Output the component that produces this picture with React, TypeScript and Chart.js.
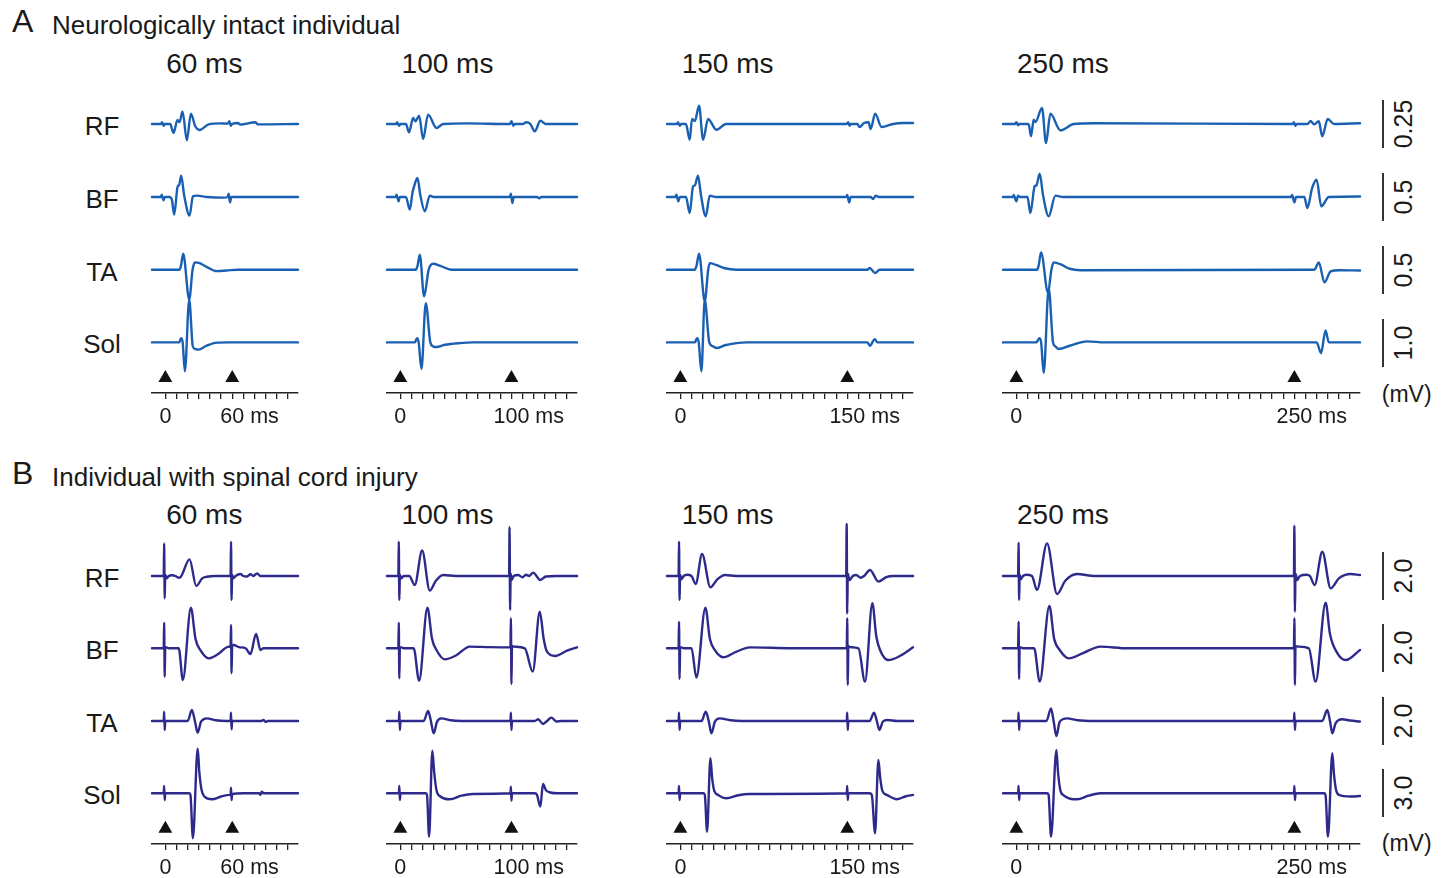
import React, { useEffect, useRef } from 'react';
import { Chart, registerables } from 'chart.js';
Chart.register(...registerables);

// ---------------- data ----------------
const ISIS = [60, 100, 150, 250];
const COLUMN_TITLES = ['60 ms', '100 ms', '150 ms', '250 ms'];
const AXIS_TICK_LABELS = [['0', '60 ms'], ['0', '100 ms'], ['0', '150 ms'], ['0', '250 ms']];
const MUSCLES = ['RF', 'BF', 'TA', 'Sol'];
const SCALE_A_MV = [0.25, 0.5, 0.5, 1.0];
const SCALE_A_LABELS = ['0.25', '0.5', '0.5', '1.0'];
const SCALE_B_MV = [2, 2, 2, 3];
const SCALE_B_LABELS = ['2.0', '2.0', '2.0', '3.0'];

// traces: [time ms, mV]
const A60_RF = [[-12,0],[-4.2,0],[-2.9,0.010],[-1.7,-0.009],[-0.5,0],[4.3,0],[7.3,-0.047],[10.9,0.021],[12.7,0.010],[15.4,0.066],[19.3,-0.085],[22.9,0.054],[26.8,-0.012],[30.7,-0.031],[38.8,-0.002],[49.3,0.003],[55.9,0.002],[57.4,0.014],[58.6,-0.009],[59.8,0],[65.2,0.005],[67.3,-0.003],[80.8,0.009],[82.9,-0.002],[119,0]];
const A60_BF = [[-12,0],[-4.1,0],[-3.2,0.024],[-1.7,-0.035],[-0.5,0],[3.7,0],[5.8,-0.028],[7.9,-0.184],[10.9,0.104],[12.4,0.128],[14.2,0.222],[16.9,0.014],[21.7,-0.194],[24.7,0.007],[28.3,0.014],[37.3,0],[52.3,-0.007],[55.9,0],[56.8,0.035],[58,-0.056],[59.2,0],[119,0]];
const A60_TA = [[-12,0],[12.5,0],[14.0,0.04],[16.0,0.167],[21.4,-0.31],[24.4,0],[26.5,0.076],[30,0.07],[37,0.03],[46,-0.015],[55,-0.008],[65,0],[119,0]];
const A60_Sol = [[-12,0],[12.5,0],[14.0,0.09],[15.5,0],[17.5,-0.6],[21.4,0.89],[24.6,-0.08],[27,-0.14],[30,-0.15],[36,-0.08],[45,-0.01],[56,0],[119,0]];

const A100_RF = [[-12,0],[-3.5,0],[-2.9,0.010],[-1.1,-0.009],[0,0],[5,0],[7.8,-0.043],[11.5,0.031],[13.6,0.014],[16.9,0.043],[20.5,-0.078],[25,0.049],[32.5,-0.021],[38.5,0],[60,0.003],[98.5,0],[100.1,0.014],[101.6,-0.009],[103,0],[110,0],[113.5,0.009],[117,0],[121,-0.038],[126,0.017],[131,0],[159,0]];
const A100_BF = [[-12,0],[-4,0],[-3.5,0.024],[-1.5,-0.045],[-0.5,0],[5,0],[8.5,-0.132],[11,0.05],[12.4,0.111],[15.4,0.198],[18,0.02],[22,-0.149],[26.5,0.014],[30,0],[98.5,0],[99.5,0.035],[100.8,-0.062],[102,0],[123,0],[125,-0.014],[127,0],[159,0]];
const A100_TA = [[-12,0],[13.9,0],[15.5,0.04],[17.5,0.156],[21.4,-0.278],[25.5,0],[29.5,0.062],[36,0.04],[46,0],[159,0]];
const A100_Sol = [[-12,0],[13,0],[15.1,0.09],[16.5,0],[19,-0.555],[22.9,0.819],[27,0],[29.5,-0.083],[32.5,-0.097],[40,-0.05],[53.5,-0.014],[65,0],[159,0]];

const A150_RF = [[-12,0],[-3,0],[-2.1,0.010],[-0.6,-0.009],[0.5,0],[5,0],[8.4,-0.082],[10.5,0.026],[13,0.015],[16.8,0.095],[20.4,-0.082],[24.9,0.026],[32.4,-0.030],[41,0],[149.5,0],[150.8,0.010],[152,-0.009],[153,0],[159,0],[161,-0.016],[165,0.005],[169,0.009],[171,-0.026],[175,0.054],[180.8,-0.016],[191,0],[200,0.005],[209,0.005]];
const A150_BF = [[-12,0],[-4.5,0],[-3.6,0.024],[-1.8,-0.045],[-0.5,0],[5,0],[8.4,-0.167],[11.4,0.111],[13,0.12],[15.9,0.222],[18.5,0.02],[22.8,-0.201],[26.4,0.014],[32,0],[149,0],[149.9,0.021],[151.7,-0.056],[153,0],[171,0],[173,-0.021],[175.6,0.014],[178,0],[209,0]];
const A150_TA = [[-12,0],[12.9,0],[14.5,0.04],[16.8,0.167],[21.9,-0.33],[25,0],[26.4,0.069],[32,0.05],[40,0.015],[50.4,0],[168,0],[170,0.017],[175,-0.035],[179,0],[209,0]];
const A150_Sol = [[-12,0],[13,0],[15,0.09],[16.5,0],[18.9,-0.604],[21.9,0.888],[26,0],[29.4,-0.083],[32.4,-0.118],[40,-0.06],[50.4,-0.014],[60,0],[168,0],[170.3,-0.069],[174.7,0.069],[177,0],[209,0]];

const A250_RF = [[-12,0],[-1,0],[0,0.010],[1.5,-0.007],[2.5,0],[11,0],[13.2,-0.064],[15.6,0.023],[17.1,0.010],[23.1,0.083],[26.7,-0.099],[30.6,0.054],[39.6,-0.033],[51.6,0],[70,0.004],[248.5,0],[249.6,0.010],[250.8,-0.009],[252,0],[262,0],[264.6,0.016],[267.6,-0.002],[272,0.014],[275,-0.064],[280,0.026],[285.6,0],[309,0.004]];
const A250_BF = [[-12,0],[-3,0],[-2.4,0.021],[0,-0.045],[1.5,0.014],[3,0],[10,0],[12.6,-0.167],[16.5,0.111],[18,0.12],[21,0.243],[24,0.02],[29.1,-0.201],[35.1,0.014],[42,0],[247,0],[248,0.021],[250,-0.056],[251.5,0],[259,0],[261.6,-0.115],[266,0.094],[270,0.180],[274.2,-0.097],[281,0],[309,0.005]];
const A250_TA = [[-12,0],[18.6,0],[20,0.04],[22.2,0.180],[28.5,-0.24],[31.5,0],[33.6,0.076],[40,0.055],[48,0.01],[57.6,-0.005],[268,0],[272,0.076],[277,-0.132],[282.6,-0.017],[290,-0.005],[309,-0.008]];
const A250_Sol = [[-12,0],[18,0],[20.7,0.09],[22.3,0],[24.6,-0.638],[29.1,1.131],[33,0],[35.1,-0.083],[38.1,-0.139],[48,-0.07],[63.6,0.021],[80,0],[270,0],[274,-0.222],[278,0.25],[281,0],[309,0]];

const B60_RF = [[-12,0],[-1.5,0],[-1.1,1.36],[-0.6,-0.93],[-0.1,0.05],[1.3,-0.097],[3,0],[6,0.03],[9,0],[11.8,-0.07],[13.5,-0.05],[21.7,0.694],[27.7,-0.417],[33,-0.1],[37.3,-0.03],[45,0],[58.5,0],[58.9,1.43],[59.4,-1.0],[59.9,0.05],[61,-0.1],[63,0],[67.3,0.083],[70,0],[73.3,-0.02],[76.3,0.07],[79,0],[82.3,0.111],[85.3,0],[119,0]];
const B60_BF = [[-12,0],[-1.5,0],[-1.1,1.07],[-0.6,-1.18],[-0.1,0.05],[1,0.04],[3,0],[12,0],[15.7,-1.32],[22.9,1.69],[27,0.4],[31.3,-0.07],[38.8,-0.42],[47,-0.25],[56.9,0.07],[58.5,0.05],[58.9,0.97],[59.4,-1.04],[59.9,0.1],[61,0.14],[66,0.05],[72,0],[76.3,-0.24],[81.4,0.6],[85.3,-0.07],[88,0],[119,0]];
const B60_TA = [[-12,0],[-1.5,0],[-1.1,0.39],[-0.6,-0.375],[-0.1,0],[20,0],[23.8,0.458],[26.5,0],[29,-0.486],[32,-0.03],[37.3,0.11],[45,0.03],[55,0],[58.5,0],[58.9,0.35],[59.4,-0.35],[59.9,0],[86,0],[88,0.04],[90,-0.04],[92,0],[119,0]];
const B60_Sol = [[-12,0],[-1.5,0],[-1.1,0.458],[-0.6,-0.417],[-0.1,0],[21.5,0],[22.5,-0.1],[24.7,-2.81],[29,2.81],[30.5,1.3],[32.5,0.2],[35,-0.2],[41.9,-0.375],[50,-0.2],[58,-0.1],[58.5,-0.1],[58.9,0.35],[59.4,-0.42],[59.9,-0.05],[70,0],[84,0],[85.3,-0.1],[86.5,0.1],[88,0],[119,0]];

const B100_RF = [[-12,0],[-1.8,0],[-1.4,1.43],[-0.9,-1.0],[-0.4,0.05],[1,-0.097],[3,0],[8,0],[13,-0.375],[19.6,1.06],[26.5,-0.61],[32,-0.2],[38.5,0.04],[50,0],[97.9,0],[98.3,2.04],[98.8,-1.42],[99.3,0.1],[100.3,-0.167],[102,0],[106,0.04],[110,-0.05],[113,0.05],[116,0],[119.5,0.139],[126,-0.167],[131,-0.02],[140,0],[159,0]];
const B100_BF = [[-12,0],[-1.8,0],[-1.4,1.07],[-0.9,-1.25],[-0.4,0.05],[1,0.04],[3,0],[12,0],[16.9,-1.35],[24.4,1.69],[28.5,0.4],[32.5,-0.07],[40,-0.46],[50,-0.3],[62.5,0.07],[80,0.05],[99.1,0.04],[99.5,1.25],[100,-1.49],[100.5,0.1],[102,0.07],[112,0],[119.2,-0.97],[125.5,1.53],[129,0.4],[132,-0.14],[139.5,-0.32],[150,-0.1],[159,0.04]];
const B100_TA = [[-12,0],[-1.3,0],[-0.9,0.39],[-0.4,-0.375],[0.1,0],[21,0],[25,0.417],[27.5,0],[30,-0.514],[33,-0.03],[37,0.11],[45,0.03],[55,0],[99.1,0],[99.5,0.35],[100,-0.375],[100.5,0],[121,0],[124,0.07],[128.4,-0.125],[132,0],[135.9,0.139],[140.4,-0.02],[145,0],[159,0]];
const B100_Sol = [[-12,0],[-1.3,0],[-0.9,0.458],[-0.4,-0.417],[0.1,0],[23,0],[24,-0.1],[25.9,-2.71],[28.8,2.67],[30.5,1.3],[32.5,0.2],[36,-0.2],[44.5,-0.375],[55,-0.15],[65,-0.04],[99.1,0],[99.5,0.42],[100,-0.46],[100.5,0],[121,0],[123,-0.1],[126,-0.83],[128.4,0.583],[131,0.2],[135,0.05],[142,0],[159,0]];

const B150_RF = [[-12,0],[-1.6,0],[-1.2,1.43],[-0.7,-1.0],[-0.2,0.05],[1,-0.14],[3,0],[6,0.05],[10,0],[13.8,-0.333],[19.5,0.917],[27,-0.47],[33,-0.15],[40,0.04],[50,0],[149,0],[149.4,2.17],[149.9,-1.56],[150.4,0.1],[152,-0.167],[155,0],[158,0.04],[162,-0.07],[165,0],[170.4,0.25],[177.9,-0.236],[185,-0.05],[191.4,0],[209,0]];
const B150_BF = [[-12,0],[-1.6,0],[-1.2,1.11],[-0.7,-1.28],[-0.2,0.05],[1,0.04],[3,0],[10,0],[14.4,-1.22],[22.5,1.69],[26.5,0.4],[30.9,-0.07],[38.4,-0.375],[50,-0.15],[62.4,0.04],[100,0],[149.5,0],[149.9,1.25],[150.4,-1.53],[150.9,0.1],[152,0.05],[160,0],[165.9,-1.39],[172.5,1.875],[176,0.5],[179.4,-0.07],[186.9,-0.49],[198,-0.3],[209,0.04]];
const B150_TA = [[-12,0],[-1.6,0],[-1.2,0.35],[-0.7,-0.375],[-0.2,0],[19,0],[22.8,0.389],[25.5,0],[27.9,-0.514],[31,-0.03],[35.4,0.11],[45,0.03],[55,0],[149.5,0],[149.9,0.35],[150.4,-0.375],[150.9,0],[170,0],[174,0.347],[176.5,0],[178.8,-0.375],[182,-0.02],[186,0.042],[195,0],[209,0]];
const B150_Sol = [[-12,0],[-1.6,0],[-1.2,0.458],[-0.7,-0.417],[-0.2,0],[21,0],[22,-0.1],[24,-2.4],[27,2.19],[28.5,1.0],[30.5,0.15],[33.9,-0.1],[41.4,-0.31],[52,-0.12],[62,-0.04],[149.5,0],[149.9,0.458],[150.4,-0.417],[150.9,0],[170,0],[172,-0.1],[174.9,-2.5],[177.9,2.08],[179.5,1.0],[181.5,0.15],[185.4,-0.1],[194.4,-0.375],[202,-0.2],[209,-0.1]];

const B250_RF = [[-12,0],[1.6,0],[2,1.39],[2.5,-1.0],[3,0.05],[4,-0.14],[6,0],[9,0.05],[14,0],[18.6,-0.58],[27.6,1.36],[36.6,-0.75],[44,-0.2],[54.6,0.083],[70,0],[249.6,0],[250,2.1],[250.5,-1.49],[251,0.1],[252.5,-0.167],[255,0],[261,0.05],[264,0],[268.2,-0.375],[275.1,1.01],[282.6,-0.514],[290,-0.1],[300.6,0.083],[309,0.04]];
const B250_BF = [[-12,0],[1.6,0],[2,1.11],[2.5,-1.28],[3,0.05],[4,0.04],[6,0],[16,0],[21,-1.39],[29.7,1.76],[34,0.4],[39,-0.07],[47.1,-0.42],[60,-0.2],[75.6,0.07],[100,0],[249.6,0],[250,1.25],[250.5,-1.53],[251,0.1],[253,0.07],[263,0],[269.1,-1.39],[278.1,1.9],[282,0.6],[288.6,-0.2],[296.1,-0.49],[309,-0.07]];
const B250_TA = [[-12,0],[1.6,0],[2,0.35],[2.5,-0.375],[3,0],[27,0],[31.2,0.528],[33.5,0],[36,-0.625],[39,-0.03],[45.6,0.11],[55,0.03],[70,0],[249.6,0],[250,0.35],[250.5,-0.375],[251,0],[275,0],[279.6,0.458],[282,0],[284.1,-0.514],[287,-0.1],[293,0.07],[300,0.02],[309,-0.02]];
const B250_Sol = [[-12,0],[1.6,0],[2,0.458],[2.5,-0.417],[3,0],[28,0],[29,-0.1],[31.2,-2.71],[36,2.71],[37.5,1.3],[39.5,0.2],[42,-0.1],[54.6,-0.375],[65,-0.15],[75.6,0],[249.6,0],[250,0.458],[250.5,-0.417],[251,0],[277,0],[278,-0.1],[280.2,-2.71],[284.1,2.5],[285.6,1.2],[287.5,0.2],[290.1,-0.1],[300.6,-0.2],[309,-0.17]];

const TRACES_A = [
  [A60_RF, A60_BF, A60_TA, A60_Sol],
  [A100_RF, A100_BF, A100_TA, A100_Sol],
  [A150_RF, A150_BF, A150_TA, A150_Sol],
  [A250_RF, A250_BF, A250_TA, A250_Sol],
];
const TRACES_B = [
  [B60_RF, B60_BF, B60_TA, B60_Sol],
  [B100_RF, B100_BF, B100_TA, B100_Sol],
  [B150_RF, B150_BF, B150_TA, B150_Sol],
  [B250_RF, B250_BF, B250_TA, B250_Sol],
];

// ---------------- layout / style ----------------
const FONT = '"Liberation Sans", Arial, Helvetica, sans-serif';
const TEXT = '#1a1a1a';
const PX_PER_MS = 1.112;
const ZERO_X = [165.2, 400.6, 680.7, 1016];
const T_MIN = -12;
const T_TAIL = 59;
const TICK_TAIL = 50;
const TICK_STEP = 10;
const BAR_PX = 48;
const CHART_SPAN = 345;
const AXIS_H = 40;
const PAD = 8;

const PANELS = [
  {
    key: 'A', letter: 'A', title: 'Neurologically intact individual', color: '#1a60b2',
    rows: [124.3, 197.3, 270, 342.7], axis: 393.3, marker: 378.2,
    letterBase: 32, titleBase: 34.5, colTitleBase: 74, mvBase: 402.2,
    traces: TRACES_A, scales: SCALE_A_MV, scaleLabels: SCALE_A_LABELS,
  },
  {
    key: 'B', letter: 'B', title: 'Individual with spinal cord injury', color: '#2d2a8c',
    rows: [576, 648.3, 721, 793.3], axis: 844, marker: 828.7,
    letterBase: 484.5, titleBase: 486, colTitleBase: 525, mvBase: 851.5,
    traces: TRACES_B, scales: SCALE_B_MV, scaleLabels: SCALE_B_LABELS,
  },
];

function Txt({ x, base, size, children, align }: any) {
  return (
    <div
      style={{
        position: 'absolute', left: x, top: base - 0.8465 * size, fontSize: size,
        lineHeight: `${size}px`, fontFamily: FONT, color: TEXT, whiteSpace: 'nowrap',
        transform: align === 'center' ? 'translateX(-50%)' : undefined,
      }}
    >
      {children}
    </div>
  );
}

function TraceChart({ panel, col }: any) {
  const ref = useRef<HTMLCanvasElement | null>(null);
  const isi = ISIS[col];
  const tMax = isi + T_TAIL;
  const width = (tMax - T_MIN) * PX_PER_MS + 2 * PAD;
  const height = CHART_SPAN + AXIS_H;
  const left = ZERO_X[col] + T_MIN * PX_PER_MS - PAD;
  const top = panel.axis - CHART_SPAN;

  useEffect(() => {
    if (!ref.current) return;
    const datasets: any[] = panel.traces[col].map((trace: number[][], i: number) => {
      const off = (panel.axis - panel.rows[i]) / BAR_PX;
      return {
        label: MUSCLES[i],
        data: trace.map(([t, v]) => ({ x: t, y: off + v / panel.scales[i] })),
        borderColor: panel.color,
        borderWidth: 2.4,
        pointRadius: 0,
        cubicInterpolationMode: 'monotone',
        borderJoinStyle: 'round',
        borderCapStyle: 'round',
        fill: false,
        clip: false,
      };
    });
    const my = (panel.axis - panel.marker) / BAR_PX;
    datasets.push({
      label: 'stim',
      data: [{ x: 0, y: my }, { x: isi, y: my }],
      showLine: false,
      pointStyle: 'triangle',
      pointRadius: 8,
      pointBackgroundColor: '#111',
      pointBorderWidth: 0,
      borderWidth: 0,
      clip: false,
    });
    const labels = AXIS_TICK_LABELS[col];
    const labelValues = [0, isi];
    const tickLabelPlugin = {
      id: 'tickLabels',
      afterDraw(chart: any) {
        const { ctx } = chart;
        const xs = chart.scales.x;
        ctx.save();
        ctx.font = `21.5px ${FONT}`;
        ctx.fillStyle = TEXT;
        ctx.textAlign = 'left';
        ctx.textBaseline = 'alphabetic';
        labelValues.forEach((v, i) => {
          const label = labels[i];
          const num = label.split(' ')[0];
          const w = ctx.measureText(num).width;
          ctx.fillText(label, xs.getPixelForValue(v) - w / 2, xs.top + 30.4);
        });
        ctx.restore();
      },
    };
    const chart = new Chart(ref.current, {
      type: 'line',
      data: { datasets },
      options: {
        animation: false,
        responsive: false,
        maintainAspectRatio: false,
        events: [],
        layout: { autoPadding: false, padding: { left: PAD, right: PAD, top: 0, bottom: 0 } },
        plugins: { legend: { display: false }, tooltip: { enabled: false } },
        scales: {
          x: {
            type: 'linear', min: T_MIN, max: tMax,
            ticks: { display: false },
            grid: { display: true, drawOnChartArea: false, drawTicks: true, tickLength: 6, color: '#222', lineWidth: 1.3 },
            border: { display: true, color: '#222', width: 1.5 },
            afterBuildTicks: (s: any) => {
              const ticks = [];
              for (let v = 0; v <= isi + TICK_TAIL; v += TICK_STEP) ticks.push({ value: v });
              s.ticks = ticks;
            },
            afterFit: (s: any) => { s.height = AXIS_H; },
          },
          y: { type: 'linear', display: false, min: 0, max: CHART_SPAN / BAR_PX },
        },
      } as any,
      plugins: [tickLabelPlugin],
    });
    return () => chart.destroy();
  }, [panel, col]);

  return (
    <canvas
      ref={ref}
      width={Math.round(width)}
      height={height}
      style={{ position: 'absolute', left, top, width: Math.round(width), height }}
    />
  );
}

export default function App() {
  return (
    <div style={{ position: 'absolute', left: 0, top: 0, width: 1447, height: 878, background: '#fff', overflow: 'hidden' }}>
      {PANELS.map((p) => (
        <React.Fragment key={p.key}>
          <Txt x={12} base={p.letterBase} size={32}>{p.letter}</Txt>
          <Txt x={52} base={p.titleBase} size={26}>{p.title}</Txt>
          {COLUMN_TITLES.map((t, c) => (
            <Txt key={t} x={ZERO_X[c] + 1} base={p.colTitleBase} size={28}>{t}</Txt>
          ))}
          {MUSCLES.map((m, i) => (
            <Txt key={m} x={102} align="center" base={p.rows[i] + 1.5 + 0.358 * 26} size={26}>{m}</Txt>
          ))}
          {ISIS.map((isi, c) => (
            <TraceChart key={isi} panel={p} col={c} />
          ))}
          {p.scaleLabels.map((s, i) => (
            <React.Fragment key={i}>
              <div style={{ position: 'absolute', left: 1382.3, top: p.rows[i] - BAR_PX / 2, width: 1.8, height: BAR_PX, background: '#333' }} />
              <div
                style={{
                  position: 'absolute', left: 1402.5, top: p.rows[i], fontSize: 25, lineHeight: '25px',
                  fontFamily: FONT, color: TEXT, whiteSpace: 'nowrap',
                  transform: 'translate(-50%, -50%) rotate(-90deg)',
                }}
              >
                {s}
              </div>
            </React.Fragment>
          ))}
          <Txt x={1406.7} align="center" base={p.mvBase} size={23}>(mV)</Txt>
        </React.Fragment>
      ))}
    </div>
  );
}
